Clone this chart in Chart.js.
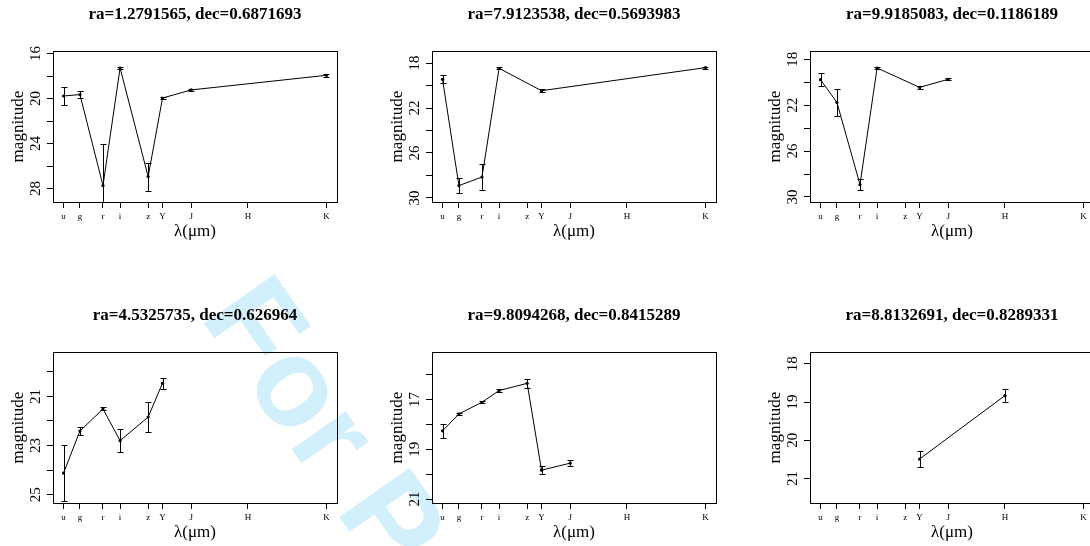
<!DOCTYPE html>
<html>
<head>
<meta charset="utf-8">
<script src="https://cdn.jsdelivr.net/npm/chart.js@4.4.1/dist/chart.umd.min.js"></script>
<style>
  html, body { margin: 0; padding: 0; background: #fff; width: 1090px; height: 546px; overflow: hidden; }
  #wrap { position: relative; width: 1090px; height: 546px; overflow: hidden; }
  #wrap canvas { position: absolute; }
  #mark { position: absolute; left: 286px; top: 256px; transform-origin: 0 0; transform: rotate(55deg);
          font: bold 125px "Liberation Sans", Arial, sans-serif; line-height: 1; color: #d2effc; white-space: nowrap; }
</style>
</head>
<body>
<div id="wrap">
  <div id="mark">For Peer Review</div>
  <canvas id="c1" width="363" height="250" style="left:0px;top:0px"></canvas>
  <canvas id="c2" width="363" height="250" style="left:379px;top:0px"></canvas>
  <canvas id="c3" width="363" height="250" style="left:757px;top:0px"></canvas>
  <canvas id="c4" width="363" height="250" style="left:0px;top:301px"></canvas>
  <canvas id="c5" width="363" height="250" style="left:379px;top:301px"></canvas>
  <canvas id="c6" width="363" height="250" style="left:757px;top:301px"></canvas>
</div>
<script>
// filters and their wavelengths (micron)
const filters = ['u', 'g', 'r', 'i', 'z', 'Y', 'J', 'H', 'K'];
const wavelengths = [0.354, 0.469, 0.631, 0.751, 0.948, 1.049, 1.25, 1.649, 2.2];
const xRange = [0.28, 2.274];

// one light curve per panel, null = no detection
const title1 = 'ra=1.2791565, dec=0.6871693';
const mag1 = [19.77, 19.64, 27.73, 17.28, 26.93, 19.95, 19.23, null, 17.93];
const err1 = [0.8, 0.3, 3.7, 0.1, 1.25, 0.1, 0.1, null, 0.15];
const yRange1 = [15.77, 29.19];
const yTicks1 = [16, 18, 20, 22, 24, 26, 28];
const yLabels1 = [16, 20, 24, 28];

const title2 = 'ra=7.9123538, dec=0.5693983';
const mag2 = [19.45, 28.9, 28.14, 18.47, null, 20.46, null, null, 18.41];
const err2 = [0.35, 0.65, 1.15, 0.1, null, 0.15, null, null, 0.1];
const yRange2 = [16.93, 30.36];
const yTicks2 = [18, 20, 22, 24, 26, 28, 30];
const yLabels2 = [18, 22, 26, 30];

const title3 = 'ra=9.9185083, dec=0.1186189';
const mag3 = [19.78, 21.76, 28.92, 18.76, null, 20.45, 19.75, null, null];
const err3 = [0.58, 1.15, 0.5, 0.1, null, 0.12, 0.1, null, null];
const yRange3 = [17.28, 30.44];
const yTicks3 = [18, 20, 22, 24, 26, 28, 30];
const yLabels3 = [18, 22, 26, 30];

const title4 = 'ra=4.5325735, dec=0.626964';
const mag4 = [24.12, 22.41, 21.51, 22.8, 21.84, 20.46, null, null, null];
const err4 = [1.14, 0.15, 0.06, 0.46, 0.62, 0.22, null, null, null];
const yRange4 = [19.19, 25.34];
const yTicks4 = [20, 21, 22, 23, 24, 25];
const yLabels4 = [21, 23, 25];

const title5 = 'ra=9.8094268, dec=0.8415289';
const mag5 = [18.26, 17.58, 17.11, 16.64, 16.35, 19.84, 19.56, null, null];
const err5 = [0.27, 0.05, 0.05, 0.06, 0.18, 0.17, 0.12, null, null];
const yRange5 = [15.09, 21.16];
const yTicks5 = [16, 17, 18, 19, 20, 21];
const yLabels5 = [17, 19, 21];

const title6 = 'ra=8.8132691, dec=0.8289331';
const mag6 = [null, null, null, null, null, 20.49, null, 18.83, null];
const err6 = [null, null, null, null, null, 0.22, null, 0.18, null];
const yRange6 = [17.69, 21.64];
const yTicks6 = [18, 19, 20, 21];
const yLabels6 = [18, 19, 20, 21];

const serif = '"Liberation Serif", "Times New Roman", serif';

// vertical error bars with caps, clipped to the plot box
const errorBars = {
  id: 'errorBars',
  afterDatasetsDraw(chart) {
    const ctx = chart.ctx;
    const area = chart.chartArea;
    const xs = chart.scales.x, ys = chart.scales.y;
    ctx.save();
    ctx.beginPath();
    ctx.rect(area.left, area.top, area.right - area.left, area.bottom - area.top);
    ctx.clip();
    ctx.strokeStyle = '#000';
    ctx.lineWidth = 1;
    chart.data.datasets[0].data.forEach(p => {
      const x = Math.round(xs.getPixelForValue(p.x)) + 0.5;
      const y1 = Math.round(ys.getPixelForValue(p.y - p.err)) + 0.5;
      const y2 = Math.round(ys.getPixelForValue(p.y + p.err)) + 0.5;
      ctx.beginPath();
      ctx.moveTo(x, y1); ctx.lineTo(x, y2);
      ctx.moveTo(x - 3, y1); ctx.lineTo(x + 3, y1);
      ctx.moveTo(x - 3, y2); ctx.lineTo(x + 3, y2);
      ctx.stroke();
    });
    ctx.restore();
  }
};

// the box round the plot region
const plotBox = {
  id: 'plotBox',
  afterDraw(chart) {
    const a = chart.chartArea;
    const ctx = chart.ctx;
    ctx.save();
    ctx.strokeStyle = '#000';
    ctx.lineWidth = 1;
    ctx.strokeRect(Math.round(a.left) + 0.5, Math.round(a.top) + 0.5,
                   Math.round(a.right - a.left), Math.round(a.bottom - a.top));
    ctx.restore();
  }
};

function drawPanel(id, title, mags, errs, yRange, yTicks, yLabels) {
  const pts = [];
  for (let i = 0; i < filters.length; i++) {
    if (mags[i] === null) continue;
    pts.push({ x: wavelengths[i], y: mags[i], err: errs[i] });
  }
  const tickGrid = { drawOnChartArea: false, drawTicks: true, tickLength: 6, color: '#000', lineWidth: 1 };

  new Chart(document.getElementById(id), {
    type: 'line',
    data: {
      datasets: [{
        data: pts,
        borderColor: '#000',
        borderWidth: 1,
        pointRadius: 1.6,
        pointBackgroundColor: '#000',
        pointBorderWidth: 0,
        tension: 0
      }]
    },
    options: {
      responsive: false,
      animation: false,
      events: [],
      layout: { padding: { left: 0, top: 0, bottom: 0, right: 26 } },
      plugins: {
        legend: { display: false },
        tooltip: { enabled: false },
        title: {
          display: true, text: title, fullSize: false, color: '#000',
          font: { family: serif, size: 17, weight: 'bold', lineHeight: 1 },
          padding: { top: 6, bottom: 28 }
        }
      },
      scales: {
        x: {
          type: 'linear', min: xRange[0], max: xRange[1],
          afterBuildTicks: s => { s.ticks = wavelengths.map(v => ({ value: v })); },
          afterFit: s => { s.height = 48; s.paddingLeft = 0; s.paddingRight = 0; },
          ticks: {
            autoSkip: false, minRotation: 0, maxRotation: 0, padding: 3, color: '#000',
            font: { family: serif, size: 9 },
            callback: (v, i) => filters[i]
          },
          grid: tickGrid,
          border: { display: false },
          title: {
            display: true, text: 'λ(μm)', color: '#000',
            font: { family: serif, size: 17, lineHeight: 1 },
            padding: { top: 0, bottom: 10 }
          }
        },
        y: {
          reverse: true, min: yRange[0], max: yRange[1],
          afterBuildTicks: s => { s.ticks = yTicks.map(v => ({ value: v })); },
          afterFit: s => { s.width = 53; s.paddingTop = 0; s.paddingBottom = 0; },
          ticks: {
            autoSkip: false, minRotation: 90, maxRotation: 90, crossAlign: 'center', padding: 3,
            color: '#000', font: { family: serif, size: 15 },
            callback: v => (yLabels.indexOf(v) >= 0 ? String(v) : '')
          },
          grid: tickGrid,
          border: { display: false },
          title: {
            display: true, text: 'magnitude', color: '#000',
            font: { family: serif, size: 17, lineHeight: 1 },
            padding: { top: 10, bottom: 0 }
          }
        }
      }
    },
    plugins: [errorBars, plotBox]
  });
}

drawPanel('c1', title1, mag1, err1, yRange1, yTicks1, yLabels1);
drawPanel('c2', title2, mag2, err2, yRange2, yTicks2, yLabels2);
drawPanel('c3', title3, mag3, err3, yRange3, yTicks3, yLabels3);
drawPanel('c4', title4, mag4, err4, yRange4, yTicks4, yLabels4);
drawPanel('c5', title5, mag5, err5, yRange5, yTicks5, yLabels5);
drawPanel('c6', title6, mag6, err6, yRange6, yTicks6, yLabels6);
</script>
</body>
</html>
